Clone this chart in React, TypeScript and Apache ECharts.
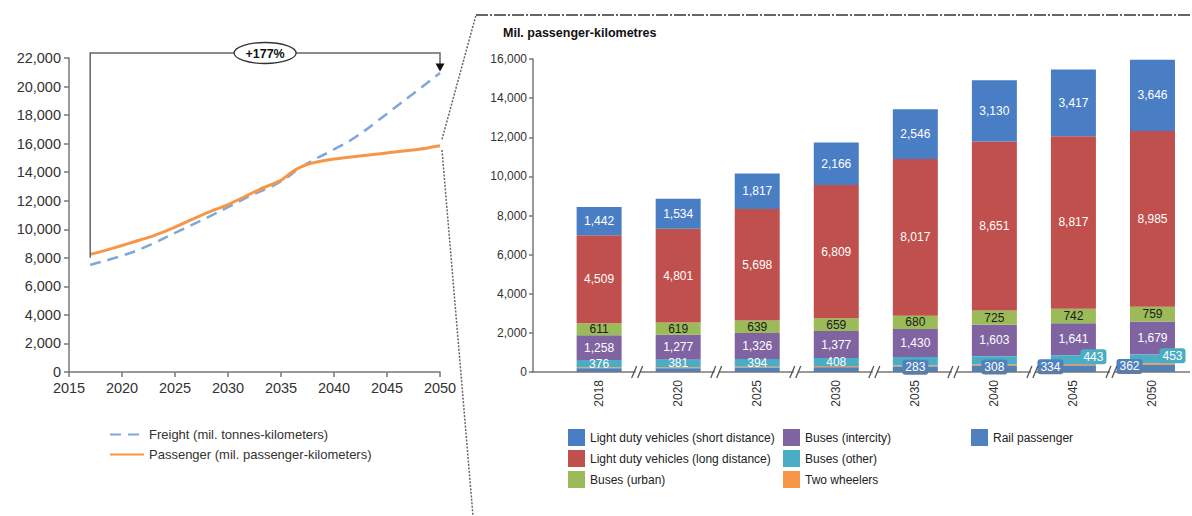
import React, { useEffect, useRef } from "react";
import * as echarts from "echarts";

// ---- Left chart (lines) ----
const freightYears = [2017, 2020, 2022, 2025, 2028, 2030, 2032, 2035, 2037, 2040, 2042, 2045, 2050];
const freightValues = [7500, 8150, 8700, 9750, 10800, 11550, 12300, 13350, 14400, 15600, 16450, 18100, 20950];
const passengerYears = [2017, 2018, 2020, 2023, 2025, 2028, 2030, 2033, 2035, 2036, 2037, 2038, 2040, 2042, 2045, 2048, 2050];
const passengerValues = [8250, 8437, 8861, 9550, 10148, 11150, 11727, 12800, 13435, 14000, 14400, 14650, 14919, 15100, 15350, 15600, 15850];
const freightName = "Freight (mil. tonnes-kilometers)";
const passengerName = "Passenger (mil. passenger-kilometers)";
const growthLabel = "+177%";

// ---- Right chart (stacked bars) ----
const barYears = ["2018", "2020", "2025", "2030", "2035", "2040", "2045", "2050"];
const railPassenger = [188, 194, 216, 248, 283, 308, 334, 362];
const twoWheelers = [53, 55, 58, 60, 64, 72, 75, 83];
const busesOther = [376, 381, 394, 408, 415, 430, 443, 453];
const busesIntercity = [1258, 1277, 1326, 1377, 1430, 1603, 1641, 1679];
const busesUrban = [611, 619, 639, 659, 680, 725, 742, 759];
const ldvLong = [4509, 4801, 5698, 6809, 8017, 8651, 8817, 8985];
const ldvShort = [1442, 1534, 1817, 2166, 2546, 3130, 3417, 3646];
const totals = [8437, 8861, 10148, 11727, 13435, 14919, 15469, 15967];
const rightTitle = "Mil. passenger-kilometres";

const N_LDV_SHORT = "Light duty vehicles (short distance)";
const N_LDV_LONG = "Light duty vehicles (long distance)";
const N_BUS_URBAN = "Buses (urban)";
const N_BUS_INTER = "Buses (intercity)";
const N_BUS_OTHER = "Buses (other)";
const N_TWO = "Two wheelers";
const N_RAIL = "Rail passenger";

const C = {
  ldvShort: "#4A7EC4",
  ldvLong: "#C0504D",
  busUrban: "#9BBB59",
  busInter: "#8064A2",
  busOther: "#4BACC6",
  two: "#F79646",
  rail: "#4F81BD",
};

const fmt = (v: number) => Number(v).toLocaleString("en-US");
const FONT = "'Liberation Sans', Arial, sans-serif";

export default function App() {
  const ref = useRef<HTMLDivElement>(null);

  useEffect(() => {
    if (!ref.current) return;
    const chart = echarts.init(ref.current, undefined, { renderer: "svg" });

    const insideLabel = (color: string) => ({
      show: true,
      position: "inside",
      color,
      fontSize: 12,
      formatter: (p: any) => fmt(p.value),
    });

    const railData = railPassenger.map((v, i) => {
      if (i < 4) return { value: v, label: { show: false } };
      return {
        value: v,
        label: {
          show: true,
          position: "inside",
          color: "#fff",
          fontSize: 12,
          backgroundColor: C.rail,
          borderRadius: 3,
          padding: [2, 3, 1, 3],
          offset: i >= 6 ? [-23, -2] : [0, -2],
        },
      };
    });
    const otherData = busesOther.map((v, i) => {
      if (i === 4 || i === 5) return { value: v, label: { show: false } };
      if (i >= 6)
        return {
          value: v,
          label: {
            show: true,
            position: "inside",
            color: "#fff",
            fontSize: 12,
            backgroundColor: C.busOther,
            borderRadius: 3,
            padding: [2, 3, 1, 3],
            offset: [20, -3],
          },
        };
      return { value: v };
    });

    const barCommon = {
      type: "bar",
      stack: "p",
      xAxisIndex: 1,
      yAxisIndex: 1,
      barWidth: 45,
    };

    const option: any = {
      animation: false,
      textStyle: { fontFamily: FONT },
      title: {
        text: rightTitle,
        left: 498,
        top: 21,
        textStyle: { fontSize: 12.5, fontWeight: "bold", color: "#111", fontFamily: FONT },
      },
      grid: [
        { left: 69, top: 58, width: 371, height: 314 },
        { left: 559.6, top: 59, width: 645.7, height: 313 },
      ],
      xAxis: [
        {
          type: "value",
          gridIndex: 0,
          min: 2015,
          max: 2050,
          interval: 5,
          axisLine: { show: true, lineStyle: { color: "#777", width: 1.5 } },
          axisTick: { show: true, length: 5, lineStyle: { color: "#777", width: 1.5 } },
          axisLabel: { fontSize: 14.5, color: "#333", margin: 8, formatter: (v: number) => String(v) },
          splitLine: { show: false },
        },
        {
          type: "category",
          gridIndex: 1,
          data: barYears,
          axisLine: { show: false },
          axisTick: { show: false },
          axisLabel: { rotate: 90, fontSize: 12, color: "#333", margin: 8 },
        },
      ],
      yAxis: [
        {
          type: "value",
          gridIndex: 0,
          min: 0,
          max: 22000,
          interval: 2000,
          axisLine: { show: true, lineStyle: { color: "#777", width: 1.5 } },
          axisTick: { show: true, length: 5, lineStyle: { color: "#777", width: 1.5 } },
          axisLabel: { fontSize: 14.5, color: "#333", margin: 8, formatter: (v: number) => fmt(v) },
          splitLine: { show: false },
        },
        {
          type: "value",
          gridIndex: 1,
          min: 0,
          max: 16000,
          interval: 2000,
          offset: 26.6,
          axisLine: { show: true, lineStyle: { color: "#777", width: 1.5 } },
          axisTick: { show: true, length: 4, lineStyle: { color: "#777", width: 1.5 } },
          axisLabel: { fontSize: 12, color: "#333", margin: 6, formatter: (v: number) => fmt(v) },
          splitLine: { show: false },
        },
      ],
      legend: [
        {
          data: [freightName, passengerName],
          orient: "vertical",
          left: 104,
          top: 423,
          itemWidth: 34,
          itemHeight: 12,
          itemGap: 7,
          selectedMode: false,
          itemStyle: { opacity: 0 },
          textStyle: { fontSize: 13, color: "#333", fontFamily: FONT },
        },
        {
          data: [N_LDV_SHORT, N_LDV_LONG, N_BUS_URBAN],
          orient: "vertical",
          left: 563,
          top: 424,
          icon: "rect",
          itemWidth: 17,
          itemHeight: 17,
          itemGap: 4,
          selectedMode: false,
          textStyle: { fontSize: 12, color: "#222", fontFamily: FONT },
        },
        {
          data: [N_BUS_INTER, N_BUS_OTHER, N_TWO],
          orient: "vertical",
          left: 778,
          top: 424,
          icon: "rect",
          itemWidth: 17,
          itemHeight: 17,
          itemGap: 4,
          selectedMode: false,
          textStyle: { fontSize: 12, color: "#222", fontFamily: FONT },
        },
        {
          data: [N_RAIL],
          orient: "vertical",
          left: 966,
          top: 424,
          icon: "rect",
          itemWidth: 17,
          itemHeight: 17,
          itemGap: 4,
          selectedMode: false,
          textStyle: { fontSize: 12, color: "#222", fontFamily: FONT },
        },
      ],
      series: [
        {
          name: freightName,
          type: "line",
          xAxisIndex: 0,
          yAxisIndex: 0,
          smooth: true,
          symbol: "none",
          data: freightYears.map((y, i) => [y, freightValues[i]]),
          lineStyle: { color: "#7FA7DA", width: 2.5, type: [11, 7] },
          itemStyle: { color: "#7FA7DA" },
          z: 3,
        },
        {
          name: passengerName,
          type: "line",
          xAxisIndex: 0,
          yAxisIndex: 0,
          smooth: 0.2,
          symbol: "none",
          data: passengerYears.map((y, i) => [y, passengerValues[i]]),
          lineStyle: { color: "#F79646", width: 3 },
          itemStyle: { color: "#F79646" },
          z: 4,
        },
        { ...barCommon, name: N_RAIL, data: railData, itemStyle: { color: C.rail }, label: insideLabel("#fff"), z: 5 },
        { ...barCommon, name: N_TWO, data: twoWheelers, itemStyle: { color: C.two }, label: { show: false } },
        { ...barCommon, name: N_BUS_OTHER, data: otherData, itemStyle: { color: C.busOther }, label: insideLabel("#fff"), z: 4 },
        { ...barCommon, name: N_BUS_INTER, data: busesIntercity, itemStyle: { color: C.busInter }, label: insideLabel("#fff") },
        { ...barCommon, name: N_BUS_URBAN, data: busesUrban, itemStyle: { color: C.busUrban }, label: insideLabel("#1a1a1a") },
        { ...barCommon, name: N_LDV_LONG, data: ldvLong, itemStyle: { color: C.ldvLong }, label: insideLabel("#fff") },
        { ...barCommon, name: N_LDV_SHORT, data: ldvShort, itemStyle: { color: C.ldvShort }, label: insideLabel("#fff") },
        {
          name: "Total",
          type: "scatter",
          xAxisIndex: 1,
          yAxisIndex: 1,
          data: totals,
          symbolSize: 1,
          itemStyle: { opacity: 0 },
          label: {
            show: true,
            position: "top",
            distance: 4,
            color: "#222",
            fontSize: 12.5,
            formatter: (p: any) => fmt(p.value),
          },
          z: 10,
        },
      ],
    };

    chart.setOption(option);

    const p0 = (x: number, y: number) => chart.convertToPixel({ gridIndex: 0 } as any, [x, y]) as number[];
    const p1 = (x: number, y: number) => chart.convertToPixel({ gridIndex: 1 } as any, [x, y]) as number[];

    const bStart = p0(freightYears[0], 8000);
    const bTopL = p0(freightYears[0], 22350);
    const bTopR = p0(2050, 22350);
    const bEnd = p0(2050, 21550);
    const midX = (bTopL[0] + bTopR[0]) / 2;

    const upperFrom = p0(2050, 16300);
    const lowerFrom = p0(2050, 15550);
    const axisY = p1(0, 0)[1];
    const yAxisX = p1(0, 0)[0] - 40.35 - 26.6;

    const graphics: any[] = [
      {
        type: "polyline",
        shape: { points: [bStart, bTopL, bTopR, bEnd] },
        style: { stroke: "#666", lineWidth: 1.5, fill: null },
        z: 20,
      },
      {
        type: "polygon",
        shape: {
          points: [
            [bEnd[0] - 4.5, bEnd[1] - 1],
            [bEnd[0] + 4.5, bEnd[1] - 1],
            [bEnd[0], bEnd[1] + 7],
          ],
        },
        style: { fill: "#111" },
        z: 20,
      },
      {
        type: "ellipse",
        shape: { cx: midX, cy: bTopL[1], rx: 31, ry: 10.5 },
        style: { fill: "#fff", stroke: "#333", lineWidth: 1.3 },
        z: 21,
      },
      {
        type: "text",
        style: {
          text: growthLabel,
          x: midX,
          y: bTopL[1] + 0.5,
          align: "center",
          verticalAlign: "middle",
          fontSize: 12.5,
          fontWeight: "bold",
          fontFamily: FONT,
          fill: "#111",
        },
        z: 22,
      },
      {
        type: "line",
        shape: { x1: upperFrom[0] + 2, y1: upperFrom[1], x2: 476, y2: 15 },
        style: { stroke: "#666", lineWidth: 1.5, lineDash: [2, 1.5] },
      },
      {
        type: "line",
        shape: { x1: lowerFrom[0] + 2, y1: lowerFrom[1], x2: 473, y2: 516 },
        style: { stroke: "#666", lineWidth: 1.5, lineDash: [2, 1.5] },
      },
      {
        type: "line",
        shape: { x1: 476, y1: 15, x2: 1192, y2: 15 },
        style: { stroke: "#666", lineWidth: 2, lineDash: [12, 2, 2, 2] },
      },
      {
        type: "line",
        shape: { x1: yAxisX, y1: axisY, x2: 1190, y2: axisY },
        style: { stroke: "#777", lineWidth: 1.5 },
        z: 6,
      },
    ];

    for (let i = 0; i < barYears.length - 1; i++) {
      const a = p1(i, 0)[0];
      const b = p1(i + 1, 0)[0];
      const mx = (a + b) / 2;
      graphics.push({
        type: "rect",
        shape: { x: mx - 3, y: axisY - 2, width: 4, height: 4 },
        style: { fill: "#fff" },
        z: 7,
      });
      graphics.push({
        type: "line",
        shape: { x1: mx - 7, y1: axisY + 6, x2: mx - 2, y2: axisY - 6 },
        style: { stroke: "#555", lineWidth: 1.3 },
        z: 8,
      });
      graphics.push({
        type: "line",
        shape: { x1: mx - 1, y1: axisY + 6, x2: mx + 4, y2: axisY - 6 },
        style: { stroke: "#555", lineWidth: 1.3 },
        z: 8,
      });
    }

    chart.setOption({ graphic: graphics });

    return () => chart.dispose();
  }, []);

  return (
    <div
      ref={ref}
      style={{ position: "fixed", left: 0, top: 0, width: 1192, height: 516, background: "#fff" }}
    />
  );
}
